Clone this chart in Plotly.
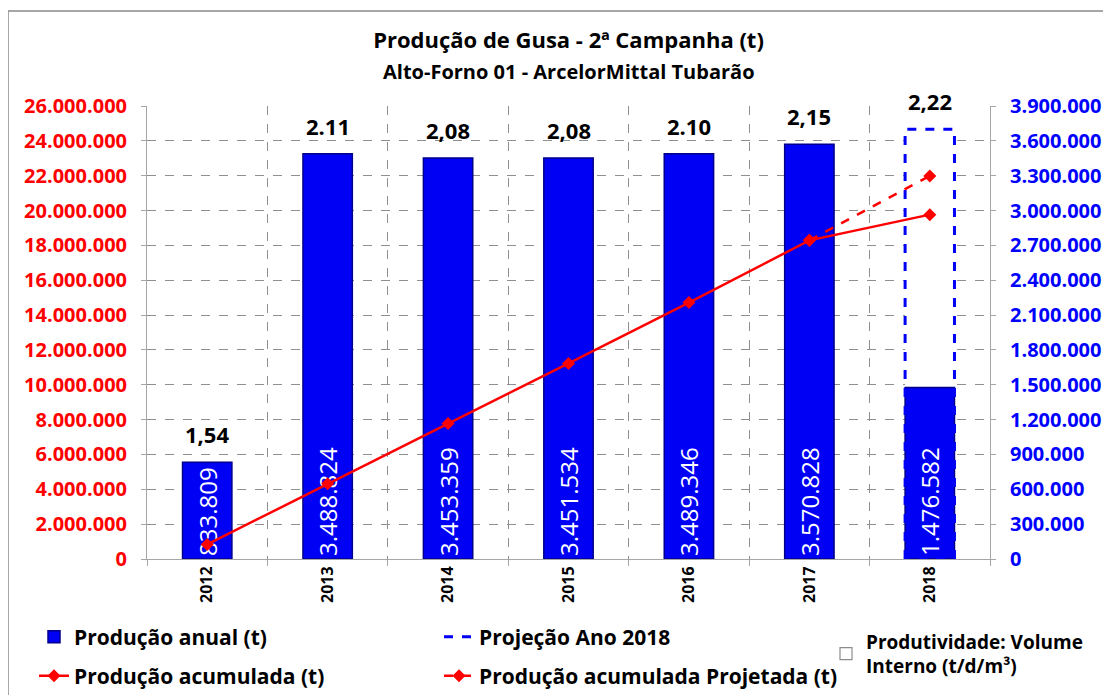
import plotly.graph_objects as go

# ---------------- data ----------------
anos = ["2012", "2013", "2014", "2015", "2016", "2017", "2018"]
producao_anual = [833809, 3488824, 3453359, 3451534, 3489346, 3570828, 1476582]
producao_acumulada = [833809, 4322633, 7775992, 11227526, 14716872, 18287700, 19764282]
projecao_2018 = 3700000
acumulada_projetada_anos = ["2017", "2018"]
acumulada_projetada = [18287700, 21987700]
produtividade = ["1,54", "2.11", "2,08", "2,08", "2.10", "2,15", "2,22"]

# ---------------- layout constants ----------------
W, H = 1111, 695
OFF = 8  # page body margin in the browser
PLOT_L, PLOT_R, PLOT_T, PLOT_B = 147, 990, 106, 559  # target page pixels
ML, MT = PLOT_L - OFF, PLOT_T - OFF
PW, PH = PLOT_R - PLOT_L, PLOT_B - PLOT_T
MR, MB = W - ML - PW, H - MT - PH
FONT = "Open Sans"
BAR_W = 0.41
BLUE = "#0000F5"
RED = "#FF0000"
GRID = "#8f8f8f"
AXIS = "#a6a6a6"

idx = list(range(len(anos)))
pos = {a: i for i, a in enumerate(anos)}
proj_i = pos["2018"]


def px_x(px):
    return (px - PLOT_L) / PW


def px_y(py):
    return (PLOT_B - py) / PH


fig = go.Figure()

# white background of projection box (hides gridlines inside)
fig.add_trace(go.Bar(
    x=[proj_i], y=[projecao_2018], width=BAR_W, yaxis="y",
    marker=dict(color="white", line=dict(width=0)),
    showlegend=False, hoverinfo="skip"))

# annual production bars
fig.add_trace(go.Bar(
    x=idx, y=producao_anual, width=BAR_W, yaxis="y",
    name="Produção anual (t)", legend="legend",
    marker=dict(color=BLUE, line=dict(color="#00008A", width=1.5)),
    texttemplate="%{y:,}", textposition="inside", insidetextanchor="start",
    textangle=-90, constraintext="none",
    textfont=dict(family=FONT, size=24, color="white")))

# productivity legend dummy
fig.add_trace(go.Bar(
    x=idx, y=[None] * len(idx), yaxis="y",
    name="Produtividade: Volume<br>Interno (t/d/m³)", legend="legend3",
    marker=dict(color="white", line=dict(color="#8c8c8c", width=1.2)),
    hoverinfo="skip"))

# projection dashed outline
x0, x1 = proj_i - BAR_W / 2, proj_i + BAR_W / 2
fig.add_trace(go.Scatter(
    x=[x0, x0, x1, x1, x0], y=[0, projecao_2018, projecao_2018, 0, 0], yaxis="y",
    mode="lines", name="Projeção Ano 2018", legend="legend2",
    line=dict(color=BLUE, width=3, dash="dash"), hoverinfo="skip"))

# cumulative production
fig.add_trace(go.Scatter(
    x=idx, y=producao_acumulada, yaxis="y2", mode="lines+markers",
    name="Produção acumulada (t)", legend="legend4",
    line=dict(color=RED, width=2.5),
    marker=dict(symbol="diamond", size=10, color=RED)))

# projected cumulative
fig.add_trace(go.Scatter(
    x=[pos[a] for a in acumulada_projetada_anos], y=acumulada_projetada, yaxis="y2",
    mode="lines+markers", name="Produção acumulada Projetada (t)", legend="legend5",
    line=dict(color=RED, width=2.5, dash="dash"),
    marker=dict(symbol="diamond", size=10, color=RED)))

# productivity labels above bars / projection
label_base = producao_anual[:-1] + [projecao_2018]
annotations = [
    dict(x=i, y=v, xref="x", yref="y", text=f"<b>{t}</b>", showarrow=False,
         yanchor="middle", yshift=28,
         font=dict(family=FONT, size=22, color="black"))
    for i, v, t in zip(idx, label_base, produtividade)
]
annotations.append(dict(text="<b>Alto-Forno 01 - ArcelorMittal Tubarão</b>",
                        xref="paper", yref="paper", x=0.5, y=px_y(71),
                        xanchor="center", yanchor="middle", showarrow=False,
                        font=dict(family=FONT, size=20, color="black")))

tickfont_common = dict(family=FONT, size=20, weight="bold")
legend_font = dict(family=FONT, size=21, color="black", weight="bold")
legend_common = dict(bgcolor="rgba(0,0,0,0)", borderwidth=0, yanchor="middle",
                     xanchor="left", orientation="v")

fig.update_layout(
    width=W, height=H,
    margin=dict(l=ML, r=MR, t=MT, b=MB, autoexpand=False),
    paper_bgcolor="white", plot_bgcolor="white",
    separators=",.",
    barmode="overlay",
    font=dict(family=FONT, color="black"),
    title=dict(text="<b>Produção de Gusa - 2ª Campanha (t)</b>",
               x=(ML + PW / 2) / W, xanchor="center", y=1 - (40 - OFF) / H, yanchor="middle",
               font=dict(family=FONT, size=22, color="black")),
    xaxis=dict(range=[-0.5, 6.5], tickmode="array", tickvals=idx, ticktext=anos,
               tickangle=-90, tickfont=dict(family=FONT, size=16, color="black", weight="bold"),
               showgrid=False, zeroline=False, showline=True, linecolor=AXIS, linewidth=1,
               ticks="", automargin=False,
               minor=dict(tick0=0.5, dtick=1, showgrid=True, gridcolor=GRID, griddash="dash",
                          gridwidth=1, ticks="outside", ticklen=6, tickcolor=AXIS)),
    yaxis=dict(range=[0, 3900000], dtick=300000, tickformat=",", side="right",
               tickfont=dict(color="#0000FF", **tickfont_common),
               showgrid=True, gridcolor=GRID, griddash="dash", gridwidth=1,
               zeroline=False, showline=True, linecolor=AXIS, linewidth=1,
               ticks="outside", ticklen=5, tickcolor=AXIS, ticklabelstandoff=10,
               automargin=False),
    yaxis2=dict(range=[0, 26000000], dtick=2000000, tickformat=",", side="left",
                overlaying="y", tickfont=dict(color="#FF0000", **tickfont_common),
                showgrid=False, zeroline=False, showline=True, linecolor=AXIS, linewidth=1,
                ticks="outside", ticklen=5, tickcolor=AXIS, ticklabelstandoff=10,
                automargin=False),
    legend=dict(x=px_x(34), y=px_y(637), font=legend_font, **legend_common),
    legend4=dict(x=px_x(34), y=px_y(676), font=legend_font, **legend_common),
    legend2=dict(x=px_x(439), y=px_y(637), font=legend_font, **legend_common),
    legend5=dict(x=px_x(439), y=px_y(676), font=legend_font, **legend_common),
    legend3=dict(x=px_x(826), y=px_y(654), font=dict(legend_font, size=19), **legend_common),
    annotations=annotations,
    shapes=[dict(type="rect", xref="paper", yref="paper",
                 x0=px_x(8), x1=px_x(1125), y0=px_y(710), y1=px_y(11),
                 line=dict(color="#8a8a8a", width=1.5), fillcolor="rgba(0,0,0,0)",
                 layer="below")],
)

fig.write_html("out.html")
